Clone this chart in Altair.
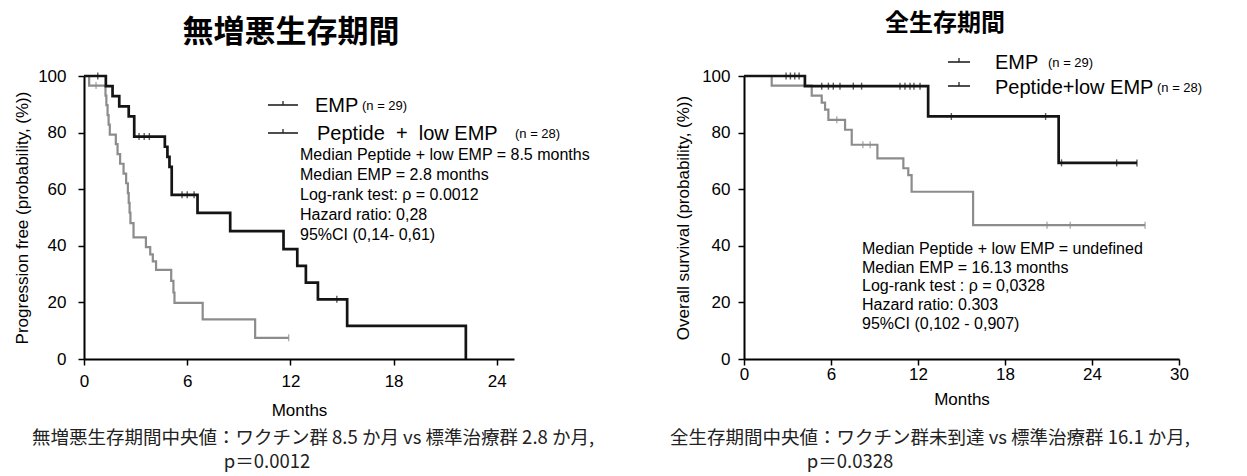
import altair as alt
import pandas as pd

# ---------------- data ----------------
groups = ["EMP", "Peptide + low EMP"]

# Progression-free survival (left panel)
pfs_pep_t = [0, 1.27, 1.66, 2.05, 2.6, 2.92, 4.7, 4.85, 4.97, 5.1, 6.6, 8.5, 11.6, 12.4, 12.9, 13.6, 15.3, 22.2]
pfs_pep_s = [100, 96.4, 92.9, 89.3, 85.7, 78.6, 75.0, 71.4, 67.9, 58.0, 51.6, 45.2, 38.8, 32.9, 27.0, 21.1, 11.7, 0]
pfs_pep_cens_t = [0.8, 3.2, 3.5, 3.8, 5.7, 6.0, 6.4, 14.7]
pfs_pep_cens_s = [100, 78.6, 78.6, 78.6, 58.0, 58.0, 58.0, 21.1]

pfs_emp_t = [0, 0.3, 1.25, 1.3, 1.37, 1.43, 1.5, 1.85, 1.95, 2.1, 2.3, 2.45, 2.55, 2.6, 2.65, 2.7,
             2.88, 3.6, 3.85, 4.0, 4.19, 5.07, 5.2, 5.26, 6.9, 9.95, 11.9]
pfs_emp_s = [100, 96.6, 93.1, 89.7, 86.2, 82.8, 79.3, 75.9, 72.4, 69.0, 65.5, 62.1, 58.6, 55.2, 51.7, 48.0,
             43.0, 39.5, 37.0, 34.5, 31.5, 27.6, 23.5, 19.8, 14.0, 7.5, 7.5]
pfs_emp_cens_t = [0.7, 11.9]
pfs_emp_cens_s = [96.6, 7.5]

# Overall survival (right panel)
os_pep_t = [0, 4.2, 12.7, 21.7, 27.1]
os_pep_s = [100, 96.4, 85.7, 69.3, 69.3]
os_pep_cens_t = [2.9, 3.2, 3.5, 3.8, 5.36, 5.82, 6.16, 6.62, 7.54, 8.11, 10.76, 11.1, 11.45, 11.72, 12.14,
                 14.3, 20.8, 21.9, 25.7, 27.1]
os_pep_cens_s = [100, 100, 100, 100, 96.4, 96.4, 96.4, 96.4, 96.4, 96.4, 96.4, 96.4, 96.4, 96.4, 96.4,
                 85.7, 85.7, 69.3, 69.3, 69.3]

os_emp_t = [0, 1.91, 4.67, 5.36, 5.59, 5.82, 6.97, 7.43, 9.2, 10.99, 11.33, 11.56, 15.8, 27.66]
os_emp_s = [100, 96.6, 93.1, 90.6, 88.1, 84.5, 81.0, 75.7, 70.9, 67.4, 65.0, 59.1, 47.3, 47.3]
os_emp_cens_t = [6.4, 8.2, 8.7, 20.9, 22.5, 27.66]
os_emp_cens_s = [84.5, 75.7, 75.7, 47.3, 47.3, 47.3]

left_x_ticks = [0, 6, 12, 18, 24]
right_x_ticks = [0, 6, 12, 18, 24, 30]
y_ticks = [0, 20, 40, 60, 80, 100]

left_title = "無増悪生存期間"
right_title = "全生存期間"
left_ytitle = "Progression free (probability, (%))"
right_ytitle = "Overall survival (probability, (%))"
x_title = "Months"

left_stats = ["Median Peptide + low EMP = 8.5 months",
              "Median EMP = 2.8 months",
              "Log-rank test: \u03c1 = 0.0012",
              "Hazard ratio: 0,28",
              "95%CI (0,14- 0,61)"]
right_stats = ["Median Peptide + low EMP = undefined",
               "Median EMP = 16.13 months",
               "Log-rank test : \u03c1 = 0,0328",
               "Hazard ratio: 0.303",
               "95%CI (0,102 - 0,907)"]

left_caption = ["無増悪生存期間中央値：ワクチン群 8.5 か月 vs 標準治療群 2.8 か月,", "p＝0.0012"]
right_caption = ["全生存期間中央値：ワクチン群未到達 vs 標準治療群 16.1 か月,", "p＝0.0328"]

# ---------------- helpers ----------------
FONT = "Liberation Sans"
JP = "Noto Sans CJK JP"
H = 283


def curves(t1, s1, t2, s2):
    return pd.concat([
        pd.DataFrame({"t": t1, "s": s1, "g": groups[0]}),
        pd.DataFrame({"t": t2, "s": s2, "g": groups[1]}),
    ], ignore_index=True)


def txt(text, x, y, size, align="left", weight="normal", font=FONT, color="black"):
    return alt.Chart(pd.DataFrame({"label": [text]})).mark_text(
        align=align, baseline="middle", fontSize=size, fontWeight=weight, font=font, color=color
    ).encode(x=alt.value(x), y=alt.value(y), text="label:N")


def legend_sym(x1, x2, y):
    d = pd.DataFrame({"k": [0]})
    line = alt.Chart(d).mark_rule(color="#222", strokeWidth=1.6).encode(
        x=alt.value(x1), x2=alt.value(x2), y=alt.value(y))
    tick = alt.Chart(d).mark_rule(color="#222", strokeWidth=1.3).encode(
        x=alt.value((x1 + x2) / 2), y=alt.value(y - 4), y2=alt.value(y))
    return line + tick


def panel(cdf, kdf, xmax, xticks, width, ytitle, ytitle_x, ylab_pad, xlab_pad, xtitle_y, extras):
    xsc = alt.Scale(domain=[0, xmax], nice=False, zero=True)
    ysc = alt.Scale(domain=[0, 100], nice=False)
    color = alt.Color("g:N", scale=alt.Scale(domain=groups, range=["#8c8c8c", "#141414"]), legend=None)
    sw = alt.StrokeWidth("g:N", scale=alt.Scale(domain=groups, range=[2.2, 2.7]), legend=None)
    common = dict(domainColor="black", domainWidth=2, tickColor="black", tickWidth=1.5, tickSize=6,
                  labelFont=FONT, labelFontSize=17, labelColor="black", titleFont=FONT,
                  titleFontSize=17, titleFontWeight="normal", titleColor="black", grid=False)
    xaxis = alt.Axis(values=xticks, title=x_title, labelPadding=xlab_pad, titleY=xtitle_y,
                     titleBaseline="middle", labelFlush=False, **common)
    yaxis = alt.Axis(values=y_ticks, title=ytitle, labelPadding=ylab_pad, titleX=ytitle_x,
                     titleY=H / 2, titleAngle=-90, titleBaseline="middle", titleAlign="center", **common)
    lines = alt.Chart(cdf).mark_line(interpolate="step-after").encode(
        x=alt.X("t:Q", scale=xsc, axis=xaxis),
        y=alt.Y("s:Q", scale=ysc, axis=yaxis),
        color=color, strokeWidth=sw, detail="g:N")
    ticks = alt.Chart(kdf).mark_tick(orient="vertical", size=7, thickness=1.4).encode(
        x=alt.X("t:Q", scale=xsc), y=alt.Y("s:Q", scale=ysc), color=color)
    return alt.layer(lines, ticks, *extras).properties(width=width, height=H)


# ---------------- left panel ----------------
L_W = 430
left_extras = [
    txt(left_title, 207, -43, 31, align="center", weight="bold", font=JP),
    legend_sym(184, 214, 29), legend_sym(184, 214, 57),
    txt(groups[0], 231, 30, 20), txt("(n = 29)", 278, 30, 13),
    txt("Peptide \u00a0+\u00a0 low EMP", 233, 58, 20), txt("(n = 28)", 431, 58, 13),
]
for i, line in enumerate(left_stats):
    left_extras.append(txt(line, 216, 79 + 20 * i, 16))
left_extras.append(txt(left_caption[0], 229, 362, 18.5, align="center", font=JP, color="#222"))
left_extras.append(txt(left_caption[1], 183, 386, 18.5, align="center", font=JP, color="#222"))

left = panel(curves(pfs_emp_t, pfs_emp_s, pfs_pep_t, pfs_pep_s),
             curves(pfs_emp_cens_t, pfs_emp_cens_s, pfs_pep_cens_t, pfs_pep_cens_s),
             25, left_x_ticks, L_W, left_ytitle, -62, 12, 8, 51, left_extras)

# ---------------- right panel ----------------
R_W = 435
right_extras = [
    txt(right_title, 201, -52, 24, align="center", weight="bold", font=JP),
    legend_sym(204, 226, -14), legend_sym(204, 226, 10),
    txt(groups[0], 251, -13, 20), txt("(n = 29)", 304, -13, 13),
    txt("Peptide+low EMP", 251, 12, 20), txt("(n = 28)", 413, 12, 13),
]
for i, line in enumerate(right_stats):
    right_extras.append(txt(line, 118, 173 + 18.7 * i, 16))
right_extras.append(txt(right_caption[0], 186, 362, 18.5, align="center", font=JP, color="#222"))
right_extras.append(txt(right_caption[1], 106, 386, 18.5, align="center", font=JP, color="#222"))

right = panel(curves(os_emp_t, os_emp_s, os_pep_t, os_pep_s),
              curves(os_emp_cens_t, os_emp_cens_s, os_pep_cens_t, os_pep_cens_s),
              30, right_x_ticks, R_W, right_ytitle, -61, 8, 1, 40, right_extras)

chart = alt.hconcat(left, right, spacing=230, bounds="flush").properties(
    padding={"left": 5, "top": 4, "right": 0, "bottom": 0}
).configure_view(stroke=None)

chart.save("out.html", embed_options={"renderer": "svg", "actions": False})
